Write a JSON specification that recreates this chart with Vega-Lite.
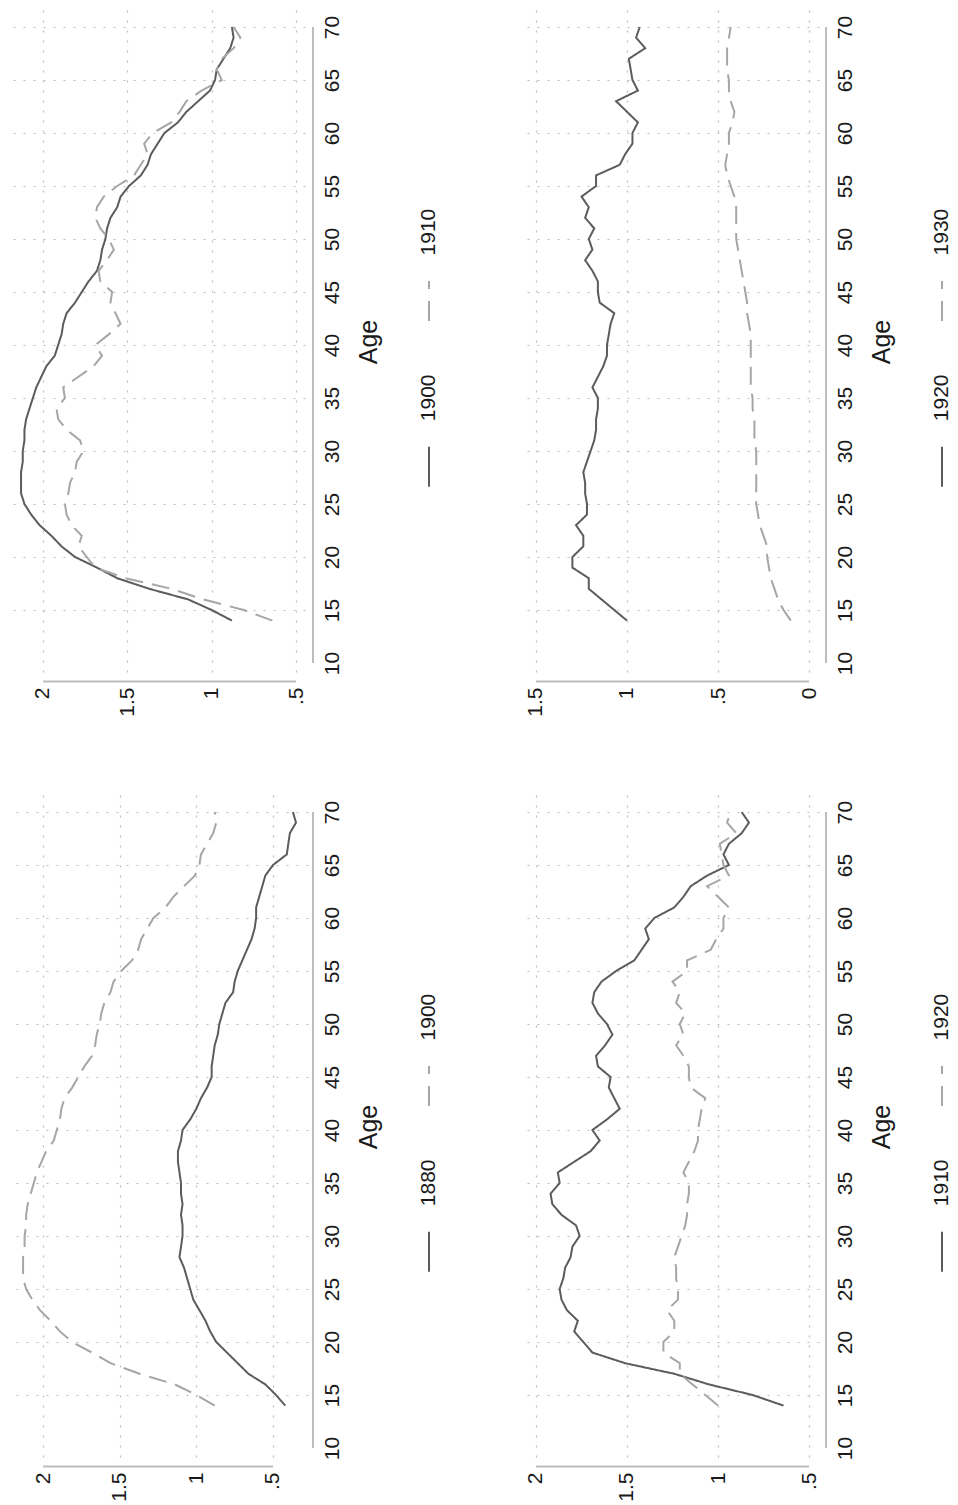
{
  "$schema": "https://vega.github.io/schema/vega-lite/v6.json",
  "padding": {"left": 10, "top": 10, "right": 0, "bottom": 0},
  "background": "white",
  "config": {
    "view": {"stroke": null},
    "font": "Liberation Sans",
    "axis": {"labelFont": "Liberation Sans", "titleFont": "Liberation Sans", "labelFontSize": 21, "titleFontSize": 25, "titleFontWeight": "normal", "labelColor": "#1a1a1a", "titleColor": "#1a1a1a", "ticks": false, "domain": false, "grid": true, "gridDash": [2, 8], "gridColor": "#bdbdbd", "gridWidth": 1.2, "labelFlush": false, "labelOverlap": false},
    "text": {"font": "Liberation Sans"}
  },
  "data": {"values": [
{"age":14,"year":"1880","v":0.42},{"age":15,"year":"1880","v":0.48},{"age":16,"year":"1880","v":0.55},{"age":17,"year":"1880","v":0.66},{"age":18,"year":"1880","v":0.73},{"age":19,"year":"1880","v":0.80},{"age":20,"year":"1880","v":0.87},{"age":21,"year":"1880","v":0.91},{"age":22,"year":"1880","v":0.94},{"age":23,"year":"1880","v":0.98},
{"age":24,"year":"1880","v":1.02},{"age":25,"year":"1880","v":1.04},{"age":26,"year":"1880","v":1.06},{"age":27,"year":"1880","v":1.08},{"age":28,"year":"1880","v":1.11},{"age":29,"year":"1880","v":1.10},{"age":30,"year":"1880","v":1.09},{"age":31,"year":"1880","v":1.09},{"age":32,"year":"1880","v":1.10},{"age":33,"year":"1880","v":1.09},
{"age":34,"year":"1880","v":1.10},{"age":35,"year":"1880","v":1.10},{"age":36,"year":"1880","v":1.11},{"age":37,"year":"1880","v":1.12},{"age":38,"year":"1880","v":1.12},{"age":39,"year":"1880","v":1.10},{"age":40,"year":"1880","v":1.09},{"age":41,"year":"1880","v":1.04},{"age":42,"year":"1880","v":1.00},{"age":43,"year":"1880","v":0.97},
{"age":44,"year":"1880","v":0.93},{"age":45,"year":"1880","v":0.90},{"age":46,"year":"1880","v":0.90},{"age":47,"year":"1880","v":0.89},{"age":48,"year":"1880","v":0.88},{"age":49,"year":"1880","v":0.86},{"age":50,"year":"1880","v":0.85},{"age":51,"year":"1880","v":0.83},{"age":52,"year":"1880","v":0.81},{"age":53,"year":"1880","v":0.76},
{"age":54,"year":"1880","v":0.75},{"age":55,"year":"1880","v":0.73},{"age":56,"year":"1880","v":0.70},{"age":57,"year":"1880","v":0.67},{"age":58,"year":"1880","v":0.64},{"age":59,"year":"1880","v":0.62},{"age":60,"year":"1880","v":0.61},{"age":61,"year":"1880","v":0.61},{"age":62,"year":"1880","v":0.59},{"age":63,"year":"1880","v":0.57},
{"age":64,"year":"1880","v":0.55},{"age":65,"year":"1880","v":0.50},{"age":66,"year":"1880","v":0.41},{"age":67,"year":"1880","v":0.40},{"age":68,"year":"1880","v":0.39},{"age":69,"year":"1880","v":0.35},{"age":70,"year":"1880","v":0.37},
{"age":14,"year":"1900","v":0.88},{"age":15,"year":"1900","v":1.00},{"age":16,"year":"1900","v":1.14},{"age":17,"year":"1900","v":1.37},{"age":18,"year":"1900","v":1.56},{"age":19,"year":"1900","v":1.68},{"age":20,"year":"1900","v":1.81},{"age":21,"year":"1900","v":1.89},{"age":22,"year":"1900","v":1.95},{"age":23,"year":"1900","v":2.02},
{"age":24,"year":"1900","v":2.07},{"age":25,"year":"1900","v":2.11},{"age":26,"year":"1900","v":2.13},{"age":27,"year":"1900","v":2.13},{"age":28,"year":"1900","v":2.13},{"age":29,"year":"1900","v":2.12},{"age":30,"year":"1900","v":2.12},{"age":31,"year":"1900","v":2.11},{"age":32,"year":"1900","v":2.11},{"age":33,"year":"1900","v":2.10},
{"age":34,"year":"1900","v":2.08},{"age":35,"year":"1900","v":2.06},{"age":36,"year":"1900","v":2.04},{"age":37,"year":"1900","v":2.01},{"age":38,"year":"1900","v":1.98},{"age":39,"year":"1900","v":1.93},{"age":40,"year":"1900","v":1.91},{"age":41,"year":"1900","v":1.89},{"age":42,"year":"1900","v":1.88},{"age":43,"year":"1900","v":1.86},
{"age":44,"year":"1900","v":1.81},{"age":45,"year":"1900","v":1.77},{"age":46,"year":"1900","v":1.73},{"age":47,"year":"1900","v":1.68},{"age":48,"year":"1900","v":1.66},{"age":49,"year":"1900","v":1.65},{"age":50,"year":"1900","v":1.63},{"age":51,"year":"1900","v":1.62},{"age":52,"year":"1900","v":1.60},{"age":53,"year":"1900","v":1.56},
{"age":54,"year":"1900","v":1.54},{"age":55,"year":"1900","v":1.49},{"age":56,"year":"1900","v":1.42},{"age":57,"year":"1900","v":1.38},{"age":58,"year":"1900","v":1.36},{"age":59,"year":"1900","v":1.32},{"age":60,"year":"1900","v":1.28},{"age":61,"year":"1900","v":1.20},{"age":62,"year":"1900","v":1.15},{"age":63,"year":"1900","v":1.08},
{"age":64,"year":"1900","v":1.01},{"age":65,"year":"1900","v":0.98},{"age":66,"year":"1900","v":0.97},{"age":67,"year":"1900","v":0.93},{"age":68,"year":"1900","v":0.89},{"age":69,"year":"1900","v":0.87},{"age":70,"year":"1900","v":0.88},
{"age":14,"year":"1910","v":0.64},{"age":15,"year":"1910","v":0.81},{"age":16,"year":"1910","v":1.05},{"age":17,"year":"1910","v":1.24},{"age":18,"year":"1910","v":1.51},{"age":19,"year":"1910","v":1.69},{"age":20,"year":"1910","v":1.74},{"age":21,"year":"1910","v":1.79},{"age":22,"year":"1910","v":1.77},{"age":23,"year":"1910","v":1.83},
{"age":24,"year":"1910","v":1.86},{"age":25,"year":"1910","v":1.87},{"age":26,"year":"1910","v":1.85},{"age":27,"year":"1910","v":1.84},{"age":28,"year":"1910","v":1.81},{"age":29,"year":"1910","v":1.80},{"age":30,"year":"1910","v":1.76},{"age":31,"year":"1910","v":1.78},{"age":32,"year":"1910","v":1.86},{"age":33,"year":"1910","v":1.91},
{"age":34,"year":"1910","v":1.92},{"age":35,"year":"1910","v":1.87},{"age":36,"year":"1910","v":1.88},{"age":37,"year":"1910","v":1.79},{"age":38,"year":"1910","v":1.70},{"age":39,"year":"1910","v":1.65},{"age":40,"year":"1910","v":1.69},{"age":41,"year":"1910","v":1.61},{"age":42,"year":"1910","v":1.54},{"age":43,"year":"1910","v":1.57},
{"age":44,"year":"1910","v":1.60},{"age":45,"year":"1910","v":1.59},{"age":46,"year":"1910","v":1.66},{"age":47,"year":"1910","v":1.67},{"age":48,"year":"1910","v":1.62},{"age":49,"year":"1910","v":1.58},{"age":50,"year":"1910","v":1.61},{"age":51,"year":"1910","v":1.66},{"age":52,"year":"1910","v":1.69},{"age":53,"year":"1910","v":1.68},
{"age":54,"year":"1910","v":1.64},{"age":55,"year":"1910","v":1.56},{"age":56,"year":"1910","v":1.46},{"age":57,"year":"1910","v":1.42},{"age":58,"year":"1910","v":1.38},{"age":59,"year":"1910","v":1.40},{"age":60,"year":"1910","v":1.35},{"age":61,"year":"1910","v":1.24},{"age":62,"year":"1910","v":1.19},{"age":63,"year":"1910","v":1.15},
{"age":64,"year":"1910","v":1.06},{"age":65,"year":"1910","v":0.94},{"age":66,"year":"1910","v":0.97},{"age":67,"year":"1910","v":0.94},{"age":68,"year":"1910","v":0.87},{"age":69,"year":"1910","v":0.83},{"age":70,"year":"1910","v":0.87},
{"age":14,"year":"1920","v":1.00},{"age":15,"year":"1920","v":1.07},{"age":16,"year":"1920","v":1.14},{"age":17,"year":"1920","v":1.21},{"age":18,"year":"1920","v":1.21},{"age":19,"year":"1920","v":1.30},{"age":20,"year":"1920","v":1.30},{"age":21,"year":"1920","v":1.24},{"age":22,"year":"1920","v":1.24},{"age":23,"year":"1920","v":1.28},
{"age":24,"year":"1920","v":1.22},{"age":25,"year":"1920","v":1.22},{"age":26,"year":"1920","v":1.23},{"age":27,"year":"1920","v":1.23},{"age":28,"year":"1920","v":1.24},{"age":29,"year":"1920","v":1.22},{"age":30,"year":"1920","v":1.20},{"age":31,"year":"1920","v":1.18},{"age":32,"year":"1920","v":1.17},{"age":33,"year":"1920","v":1.17},
{"age":34,"year":"1920","v":1.16},{"age":35,"year":"1920","v":1.16},{"age":36,"year":"1920","v":1.19},{"age":37,"year":"1920","v":1.16},{"age":38,"year":"1920","v":1.13},{"age":39,"year":"1920","v":1.11},{"age":40,"year":"1920","v":1.11},{"age":41,"year":"1920","v":1.10},{"age":42,"year":"1920","v":1.09},{"age":43,"year":"1920","v":1.07},
{"age":44,"year":"1920","v":1.15},{"age":45,"year":"1920","v":1.16},{"age":46,"year":"1920","v":1.16},{"age":47,"year":"1920","v":1.19},{"age":48,"year":"1920","v":1.23},{"age":49,"year":"1920","v":1.19},{"age":50,"year":"1920","v":1.21},{"age":51,"year":"1920","v":1.18},{"age":52,"year":"1920","v":1.23},{"age":53,"year":"1920","v":1.21},
{"age":54,"year":"1920","v":1.25},{"age":55,"year":"1920","v":1.17},{"age":56,"year":"1920","v":1.17},{"age":57,"year":"1920","v":1.04},{"age":58,"year":"1920","v":1.01},{"age":59,"year":"1920","v":0.97},{"age":60,"year":"1920","v":0.97},{"age":61,"year":"1920","v":0.94},{"age":62,"year":"1920","v":1.00},{"age":63,"year":"1920","v":1.06},
{"age":64,"year":"1920","v":0.94},{"age":65,"year":"1920","v":0.97},{"age":66,"year":"1920","v":0.98},{"age":67,"year":"1920","v":0.99},{"age":68,"year":"1920","v":0.90},{"age":69,"year":"1920","v":0.95},{"age":70,"year":"1920","v":0.93},
{"age":14,"year":"1930","v":0.10},{"age":15,"year":"1930","v":0.14},{"age":16,"year":"1930","v":0.17},{"age":17,"year":"1930","v":0.19},{"age":18,"year":"1930","v":0.21},{"age":19,"year":"1930","v":0.22},{"age":20,"year":"1930","v":0.23},{"age":21,"year":"1930","v":0.23},{"age":22,"year":"1930","v":0.25},{"age":23,"year":"1930","v":0.27},
{"age":24,"year":"1930","v":0.28},{"age":25,"year":"1930","v":0.29},{"age":26,"year":"1930","v":0.29},{"age":27,"year":"1930","v":0.29},{"age":28,"year":"1930","v":0.29},{"age":29,"year":"1930","v":0.29},{"age":30,"year":"1930","v":0.29},{"age":31,"year":"1930","v":0.30},{"age":32,"year":"1930","v":0.30},{"age":33,"year":"1930","v":0.30},
{"age":34,"year":"1930","v":0.31},{"age":35,"year":"1930","v":0.31},{"age":36,"year":"1930","v":0.32},{"age":37,"year":"1930","v":0.32},{"age":38,"year":"1930","v":0.32},{"age":39,"year":"1930","v":0.32},{"age":40,"year":"1930","v":0.32},{"age":41,"year":"1930","v":0.32},{"age":42,"year":"1930","v":0.33},{"age":43,"year":"1930","v":0.34},
{"age":44,"year":"1930","v":0.34},{"age":45,"year":"1930","v":0.35},{"age":46,"year":"1930","v":0.36},{"age":47,"year":"1930","v":0.37},{"age":48,"year":"1930","v":0.38},{"age":49,"year":"1930","v":0.39},{"age":50,"year":"1930","v":0.40},{"age":51,"year":"1930","v":0.40},{"age":52,"year":"1930","v":0.40},{"age":53,"year":"1930","v":0.40},
{"age":54,"year":"1930","v":0.41},{"age":55,"year":"1930","v":0.43},{"age":56,"year":"1930","v":0.45},{"age":57,"year":"1930","v":0.46},{"age":58,"year":"1930","v":0.45},{"age":59,"year":"1930","v":0.44},{"age":60,"year":"1930","v":0.44},{"age":61,"year":"1930","v":0.42},{"age":62,"year":"1930","v":0.41},{"age":63,"year":"1930","v":0.43},
{"age":64,"year":"1930","v":0.44},{"age":65,"year":"1930","v":0.44},{"age":66,"year":"1930","v":0.45},{"age":67,"year":"1930","v":0.45},{"age":68,"year":"1930","v":0.45},{"age":69,"year":"1930","v":0.44},{"age":70,"year":"1930","v":0.43}
  ]},
  "resolve": {"scale": {"x": "independent", "y": "independent", "color": "independent", "strokeDash": "independent"}},
  "spacing": 78,
  "vconcat": [
    {
      "resolve": {"scale": {"x": "independent", "y": "independent", "color": "independent", "strokeDash": "independent"}},
      "spacing": 83,
      "hconcat": [
        {
          "resolve": {"scale": {"x": "independent", "y": "independent", "color": "independent", "strokeDash": "independent"}},
          "spacing": 36,
          "hconcat": [
            {
              "width": 295, "height": 663,
              "layer": [
                {
                  "transform": [{"filter": {"field": "year", "oneOf": ["1900", "1910"]}}],
                  "mark": {"type": "line", "strokeWidth": 2},
                  "encoding": {
                    "x": {"field": "v", "type": "quantitative", "scale": {"domain": [2.1956, 0.4467], "nice": false, "zero": false},
                      "axis": {"values": [0.5, 1, 1.5, 2], "labelExpr": "datum.value == 0.5 ? '.5' : format(datum.value, '~g')", "labelAngle": 270, "labelAlign": "right", "labelBaseline": "middle", "labelPadding": 6, "offset": 8, "title": null}},
                    "y": {"field": "age", "type": "quantitative", "scale": {"domain": [9.057, 71.604], "nice": false, "zero": false},
                      "axis": {"orient": "right", "values": [10, 15, 20, 25, 30, 35, 40, 45, 50, 55, 60, 65, 70], "labelAngle": 270, "labelAlign": "center", "labelBaseline": "top", "labelPadding": 8, "offset": 8, "gridOpacity": {"condition": {"test": "datum.value == 10", "value": 0}, "value": 1}, "title": "Age", "titleAngle": 270, "titleBaseline": "top", "titlePadding": 14}},
                    "order": {"field": "age", "type": "quantitative"},
                    "color": {"field": "year", "type": "nominal", "scale": {"domain": ["1900", "1910"], "range": ["#5c5c5c", "#a6a6a6"]}, "legend": null},
                    "strokeDash": {"field": "year", "type": "nominal", "scale": {"domain": ["1900", "1910"], "range": [[1, 0], [18, 9]]}, "legend": null}
                  }
                },
                {"data": {"values": [{}]}, "mark": {"type": "rule", "color": "#bdbdbd", "strokeWidth": 2}, "encoding": {"x": {"datum": 2}, "x2": {"datum": 0.5}, "y": {"datum": 8.25}}},
                {"data": {"values": [{}]}, "mark": {"type": "rule", "color": "#bdbdbd", "strokeWidth": 2}, "encoding": {"x": {"datum": 0.3992}, "y": {"datum": 10}, "y2": {"datum": 70}}}
              ]
            },
            {
              "width": 24, "height": 663,
              "transform": [{"filter": "datum.age == 14 && (datum.year == '1900' || datum.year == '1910')"}],
              "layer": [
                {"mark": {"type": "text", "angle": 270, "fontSize": 21, "align": "center", "baseline": "middle", "color": "#1a1a1a"},
                  "encoding": {"y": {"field": "year", "type": "nominal", "scale": {"type": "band", "domain": ["1910", "1900"], "paddingInner": 0, "paddingOuter": 1}, "axis": null, "bandPosition": 0.34}, "text": {"field": "year", "type": "nominal"}}},
                {"mark": {"type": "point", "shape": "stroke", "size": 1600, "angle": 270, "strokeWidth": 2, "filled": false, "opacity": 1},
                  "encoding": {"y": {"field": "year", "type": "nominal", "scale": {"type": "band", "domain": ["1910", "1900"], "paddingInner": 0, "paddingOuter": 1}, "axis": null, "bandPosition": 0.755},
                    "color": {"field": "year", "type": "nominal", "scale": {"domain": ["1900", "1910"], "range": ["#5c5c5c", "#a6a6a6"]}, "legend": null},
                    "strokeDash": {"field": "year", "type": "nominal", "scale": {"domain": ["1900", "1910"], "range": [[1, 0], [20, 12]]}, "legend": null}}}
              ]
            }
          ]
        },
        {
          "resolve": {"scale": {"x": "independent", "y": "independent", "color": "independent", "strokeDash": "independent"}},
          "spacing": 36,
          "hconcat": [
            {
              "width": 295, "height": 663,
              "layer": [
                {
                  "transform": [{"filter": {"field": "year", "oneOf": ["1920", "1930"]}}],
                  "mark": {"type": "line", "strokeWidth": 2},
                  "encoding": {
                    "x": {"field": "v", "type": "quantitative", "scale": {"domain": [1.5659, -0.0549], "nice": false, "zero": false},
                      "axis": {"values": [0, 0.5, 1, 1.5], "labelExpr": "datum.value == 0.5 ? '.5' : format(datum.value, '~g')", "labelAngle": 270, "labelAlign": "right", "labelBaseline": "middle", "labelPadding": 6, "offset": 8, "title": null}},
                    "y": {"field": "age", "type": "quantitative", "scale": {"domain": [9.057, 71.604], "nice": false, "zero": false},
                      "axis": {"orient": "right", "values": [10, 15, 20, 25, 30, 35, 40, 45, 50, 55, 60, 65, 70], "labelAngle": 270, "labelAlign": "center", "labelBaseline": "top", "labelPadding": 8, "offset": 7, "gridOpacity": {"condition": {"test": "datum.value == 10", "value": 0}, "value": 1}, "title": "Age", "titleAngle": 270, "titleBaseline": "top", "titlePadding": 14}},
                    "order": {"field": "age", "type": "quantitative"},
                    "color": {"field": "year", "type": "nominal", "scale": {"domain": ["1920", "1930"], "range": ["#5c5c5c", "#a6a6a6"]}, "legend": null},
                    "strokeDash": {"field": "year", "type": "nominal", "scale": {"domain": ["1920", "1930"], "range": [[1, 0], [18, 9]]}, "legend": null}
                  }
                },
                {"data": {"values": [{}]}, "mark": {"type": "rule", "color": "#bdbdbd", "strokeWidth": 2}, "encoding": {"x": {"datum": 1.5}, "x2": {"datum": 0}, "y": {"datum": 8.25}}},
                {"data": {"values": [{}]}, "mark": {"type": "rule", "color": "#bdbdbd", "strokeWidth": 2}, "encoding": {"x": {"datum": -0.0934}, "y": {"datum": 10}, "y2": {"datum": 70}}}
              ]
            },
            {
              "width": 24, "height": 663,
              "transform": [{"filter": "datum.age == 14 && (datum.year == '1920' || datum.year == '1930')"}],
              "layer": [
                {"mark": {"type": "text", "angle": 270, "fontSize": 21, "align": "center", "baseline": "middle", "color": "#1a1a1a"},
                  "encoding": {"y": {"field": "year", "type": "nominal", "scale": {"type": "band", "domain": ["1930", "1920"], "paddingInner": 0, "paddingOuter": 1}, "axis": null, "bandPosition": 0.34}, "text": {"field": "year", "type": "nominal"}}},
                {"mark": {"type": "point", "shape": "stroke", "size": 1600, "angle": 270, "strokeWidth": 2, "filled": false, "opacity": 1},
                  "encoding": {"y": {"field": "year", "type": "nominal", "scale": {"type": "band", "domain": ["1930", "1920"], "paddingInner": 0, "paddingOuter": 1}, "axis": null, "bandPosition": 0.755},
                    "color": {"field": "year", "type": "nominal", "scale": {"domain": ["1920", "1930"], "range": ["#5c5c5c", "#a6a6a6"]}, "legend": null},
                    "strokeDash": {"field": "year", "type": "nominal", "scale": {"domain": ["1920", "1930"], "range": [[1, 0], [20, 12]]}, "legend": null}}}
              ]
            }
          ]
        }
      ]
    },
    {
      "resolve": {"scale": {"x": "independent", "y": "independent", "color": "independent", "strokeDash": "independent"}},
      "spacing": 83,
      "hconcat": [
        {
          "resolve": {"scale": {"x": "independent", "y": "independent", "color": "independent", "strokeDash": "independent"}},
          "spacing": 36,
          "hconcat": [
            {
              "width": 298, "height": 663,
              "layer": [
                {
                  "transform": [{"filter": {"field": "year", "oneOf": ["1880", "1900"]}}],
                  "mark": {"type": "line", "strokeWidth": 2},
                  "encoding": {
                    "x": {"field": "v", "type": "quantitative", "scale": {"domain": [2.2153, 0.2717], "nice": false, "zero": false},
                      "axis": {"values": [0.5, 1, 1.5, 2], "labelExpr": "datum.value == 0.5 ? '.5' : format(datum.value, '~g')", "labelAngle": 270, "labelAlign": "right", "labelBaseline": "middle", "labelPadding": 6, "offset": 8, "title": null}},
                    "y": {"field": "age", "type": "quantitative", "scale": {"domain": [9.057, 71.604], "nice": false, "zero": false},
                      "axis": {"orient": "right", "values": [10, 15, 20, 25, 30, 35, 40, 45, 50, 55, 60, 65, 70], "labelAngle": 270, "labelAlign": "center", "labelBaseline": "top", "labelPadding": 8, "offset": 5, "gridOpacity": {"condition": {"test": "datum.value == 10", "value": 0}, "value": 1}, "title": "Age", "titleAngle": 270, "titleBaseline": "top", "titlePadding": 14}},
                    "order": {"field": "age", "type": "quantitative"},
                    "color": {"field": "year", "type": "nominal", "scale": {"domain": ["1880", "1900"], "range": ["#5c5c5c", "#a6a6a6"]}, "legend": null},
                    "strokeDash": {"field": "year", "type": "nominal", "scale": {"domain": ["1880", "1900"], "range": [[1, 0], [18, 9]]}, "legend": null}
                  }
                },
                {"data": {"values": [{}]}, "mark": {"type": "rule", "color": "#bdbdbd", "strokeWidth": 2}, "encoding": {"x": {"datum": 2}, "x2": {"datum": 0.5}, "y": {"datum": 8.25}}},
                {"data": {"values": [{}]}, "mark": {"type": "rule", "color": "#bdbdbd", "strokeWidth": 2}, "encoding": {"x": {"datum": 0.2391}, "y": {"datum": 10}, "y2": {"datum": 70}}}
              ]
            },
            {
              "width": 24, "height": 663,
              "transform": [{"filter": "datum.age == 14 && (datum.year == '1880' || datum.year == '1900')"}],
              "layer": [
                {"mark": {"type": "text", "angle": 270, "fontSize": 21, "align": "center", "baseline": "middle", "color": "#1a1a1a"},
                  "encoding": {"y": {"field": "year", "type": "nominal", "scale": {"type": "band", "domain": ["1900", "1880"], "paddingInner": 0, "paddingOuter": 1}, "axis": null, "bandPosition": 0.34}, "text": {"field": "year", "type": "nominal"}}},
                {"mark": {"type": "point", "shape": "stroke", "size": 1600, "angle": 270, "strokeWidth": 2, "filled": false, "opacity": 1},
                  "encoding": {"y": {"field": "year", "type": "nominal", "scale": {"type": "band", "domain": ["1900", "1880"], "paddingInner": 0, "paddingOuter": 1}, "axis": null, "bandPosition": 0.755},
                    "color": {"field": "year", "type": "nominal", "scale": {"domain": ["1880", "1900"], "range": ["#5c5c5c", "#a6a6a6"]}, "legend": null},
                    "strokeDash": {"field": "year", "type": "nominal", "scale": {"domain": ["1880", "1900"], "range": [[1, 0], [20, 12]]}, "legend": null}}}
              ]
            }
          ]
        },
        {
          "resolve": {"scale": {"x": "independent", "y": "independent", "color": "independent", "strokeDash": "independent"}},
          "spacing": 36,
          "hconcat": [
            {
              "width": 295, "height": 663,
              "layer": [
                {
                  "transform": [{"filter": {"field": "year", "oneOf": ["1910", "1920"]}}],
                  "mark": {"type": "line", "strokeWidth": 2},
                  "encoding": {
                    "x": {"field": "v", "type": "quantitative", "scale": {"domain": [2.0659, 0.4451], "nice": false, "zero": false},
                      "axis": {"values": [0.5, 1, 1.5, 2], "labelExpr": "datum.value == 0.5 ? '.5' : format(datum.value, '~g')", "labelAngle": 270, "labelAlign": "right", "labelBaseline": "middle", "labelPadding": 6, "offset": 8, "title": null}},
                    "y": {"field": "age", "type": "quantitative", "scale": {"domain": [9.057, 71.604], "nice": false, "zero": false},
                      "axis": {"orient": "right", "values": [10, 15, 20, 25, 30, 35, 40, 45, 50, 55, 60, 65, 70], "labelAngle": 270, "labelAlign": "center", "labelBaseline": "top", "labelPadding": 8, "offset": 7, "gridOpacity": {"condition": {"test": "datum.value == 10", "value": 0}, "value": 1}, "title": "Age", "titleAngle": 270, "titleBaseline": "top", "titlePadding": 14}},
                    "order": {"field": "age", "type": "quantitative"},
                    "color": {"field": "year", "type": "nominal", "scale": {"domain": ["1910", "1920"], "range": ["#5c5c5c", "#a6a6a6"]}, "legend": null},
                    "strokeDash": {"field": "year", "type": "nominal", "scale": {"domain": ["1910", "1920"], "range": [[1, 0], [18, 9]]}, "legend": null}
                  }
                },
                {"data": {"values": [{}]}, "mark": {"type": "rule", "color": "#bdbdbd", "strokeWidth": 2}, "encoding": {"x": {"datum": 2}, "x2": {"datum": 0.5}, "y": {"datum": 8.25}}},
                {"data": {"values": [{}]}, "mark": {"type": "rule", "color": "#bdbdbd", "strokeWidth": 2}, "encoding": {"x": {"datum": 0.4066}, "y": {"datum": 10}, "y2": {"datum": 70}}}
              ]
            },
            {
              "width": 24, "height": 663,
              "transform": [{"filter": "datum.age == 14 && (datum.year == '1910' || datum.year == '1920')"}],
              "layer": [
                {"mark": {"type": "text", "angle": 270, "fontSize": 21, "align": "center", "baseline": "middle", "color": "#1a1a1a"},
                  "encoding": {"y": {"field": "year", "type": "nominal", "scale": {"type": "band", "domain": ["1920", "1910"], "paddingInner": 0, "paddingOuter": 1}, "axis": null, "bandPosition": 0.34}, "text": {"field": "year", "type": "nominal"}}},
                {"mark": {"type": "point", "shape": "stroke", "size": 1600, "angle": 270, "strokeWidth": 2, "filled": false, "opacity": 1},
                  "encoding": {"y": {"field": "year", "type": "nominal", "scale": {"type": "band", "domain": ["1920", "1910"], "paddingInner": 0, "paddingOuter": 1}, "axis": null, "bandPosition": 0.755},
                    "color": {"field": "year", "type": "nominal", "scale": {"domain": ["1910", "1920"], "range": ["#5c5c5c", "#a6a6a6"]}, "legend": null},
                    "strokeDash": {"field": "year", "type": "nominal", "scale": {"domain": ["1910", "1920"], "range": [[1, 0], [20, 12]]}, "legend": null}}}
              ]
            }
          ]
        }
      ]
    }
  ]
}
